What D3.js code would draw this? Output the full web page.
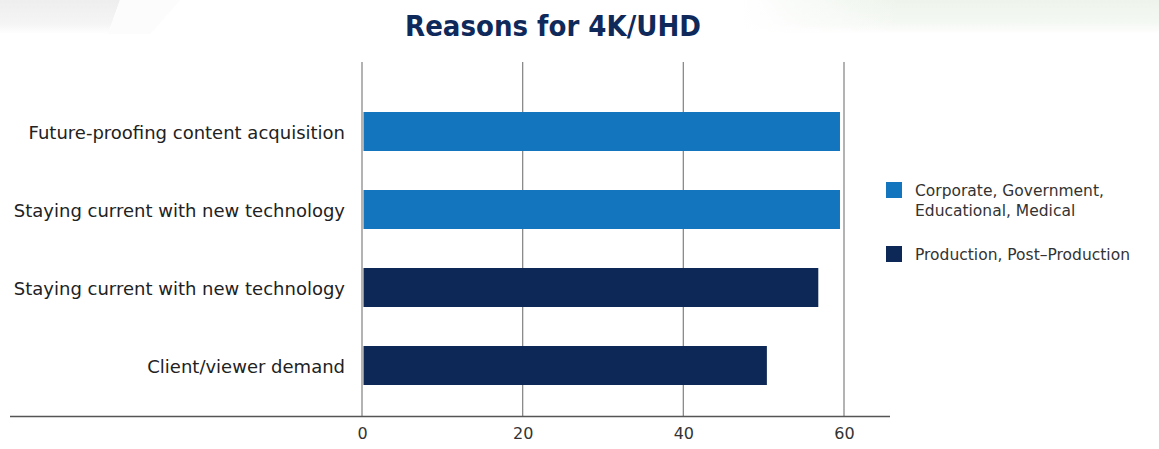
<!DOCTYPE html>
<html>
<head>
<meta charset="utf-8">
<script src="https://cdn.jsdelivr.net/npm/d3@7"></script>
<style>
  html, body { margin: 0; padding: 0; background: #fff; }
  svg { display: block; }
</style>
</head>
<body>
<svg id="chart" width="1159" height="449"></svg>
<script>
// Reasons for adopting 4K/UHD, by respondent sector
const categories = [
  "Future-proofing content acquisition",
  "Staying current with new technology",
  "Staying current with new technology",
  "Client/viewer demand"
];
const values = [59.5, 59.5, 56.8, 50.4];
const groups = ["corp", "corp", "prod", "prod"];
const seriesNames = ["Corporate, Government,|Educational, Medical", "Production, Post\u2013Production"];
const seriesKeys = ["corp", "prod"];
const seriesColors = ["#1275bd", "#0d2756"];
const xTicks = [0, 20, 40, 60];

const svg = d3.select("#chart");
const W = 1159, H = 449;
const bodyFont = "'DejaVu Sans', Verdana, sans-serif";

// soft page decoration along the top edge
const defs = svg.append("defs");
function fade(id, c) {
  const g = defs.append("linearGradient").attr("id", id).attr("x1", 0).attr("y1", 0).attr("x2", 0).attr("y2", 1);
  g.append("stop").attr("offset", "0%").attr("stop-color", c);
  g.append("stop").attr("offset", "70%").attr("stop-color", c).attr("stop-opacity", 0.6);
  g.append("stop").attr("offset", "100%").attr("stop-color", c).attr("stop-opacity", 0);
}
fade("tintGray", "#eeeeee");
fade("tintGreen", "#eef4ec");
const hz = defs.append("linearGradient").attr("id", "tintRight").attr("x1", 0).attr("y1", 0).attr("x2", 1).attr("y2", 0);
hz.append("stop").attr("offset", "0%").attr("stop-color", "#fff").attr("stop-opacity", 1);
hz.append("stop").attr("offset", "100%").attr("stop-color", "#fff").attr("stop-opacity", 0);
svg.append("path").attr("d", "M0,0 L120,0 L108,34 L0,34 Z").attr("fill", "url(#tintGray)");
svg.append("path").attr("d", "M120,0 L180,0 L150,34 L108,34 Z").attr("fill", "#fbfcfb");
svg.append("rect").attr("x", 740).attr("y", 0).attr("width", W - 740).attr("height", 34).attr("fill", "url(#tintGreen)");
svg.append("rect").attr("x", 740).attr("y", 0).attr("width", 160).attr("height", 34).attr("fill", "url(#tintRight)");

const x = d3.scaleLinear().domain([0, 60]).range([362, 844]);
const y = d3.scaleBand().domain(d3.range(categories.length)).range([92.5, 404.5])
  .paddingInner(0.5).paddingOuter(0.25);
const color = d3.scaleOrdinal().domain(seriesKeys).range(seriesColors);

// title
svg.append("text")
  .attr("x", 553).attr("y", 36)
  .attr("text-anchor", "middle")
  .attr("font-family", "'DejaVu Sans Condensed', 'DejaVu Sans', sans-serif")
  .attr("font-weight", "bold")
  .attr("font-size", 29)
  .attr("fill", "#0f2a5a")
  .text("Reasons for 4K/UHD");

// vertical gridlines
svg.append("g").selectAll("line").data(xTicks).join("line")
  .attr("x1", d => x(d)).attr("x2", d => x(d))
  .attr("y1", 62).attr("y2", 416.5)
  .attr("stroke", "#8a8a8a").attr("stroke-width", 1.3);

// bars
svg.append("g").selectAll("rect").data(values).join("rect")
  .attr("x", x(0) + 1.5)
  .attr("y", (d, i) => y(i))
  .attr("width", d => x(d) - x(0) - 1.5)
  .attr("height", y.bandwidth())
  .attr("fill", (d, i) => color(groups[i]));

// baseline
svg.append("line")
  .attr("x1", 10).attr("x2", 890).attr("y1", 416.5).attr("y2", 416.5)
  .attr("stroke", "#555").attr("stroke-width", 1.3);

// x axis labels
const xAxis = d3.axisBottom(x).tickValues(xTicks).tickSize(0).tickPadding(0);
const gx = svg.append("g").attr("transform", "translate(0,428)").call(xAxis);
gx.select(".domain").remove();
gx.selectAll("text")
  .attr("font-family", bodyFont)
  .attr("font-size", 16).attr("fill", "#333").attr("dy", "0.71em");

// category labels
const yAxis = d3.axisLeft(y).tickFormat(i => categories[i]).tickSize(0).tickPadding(0);
const gy = svg.append("g").attr("transform", "translate(345,1.5)").call(yAxis);
gy.select(".domain").remove();
gy.selectAll("text")
  .attr("font-family", bodyFont)
  .attr("font-size", 18).attr("fill", "#222");

// legend
const legend = svg.append("g");
const legendY = [182, 246];
seriesKeys.forEach((k, i) => {
  const g = legend.append("g").attr("transform", `translate(886,${legendY[i]})`);
  g.append("rect").attr("width", 16).attr("height", 16).attr("fill", seriesColors[i]);
  const t = g.append("text")
    .attr("x", 29).attr("y", 14)
    .attr("font-family", bodyFont)
    .attr("font-size", 15.5).attr("fill", "#333");
  seriesNames[i].split("|").forEach((line, j) => {
    t.append("tspan").attr("x", 29).attr("dy", j === 0 ? 0 : 20).text(line);
  });
});
</script>
</body>
</html>
